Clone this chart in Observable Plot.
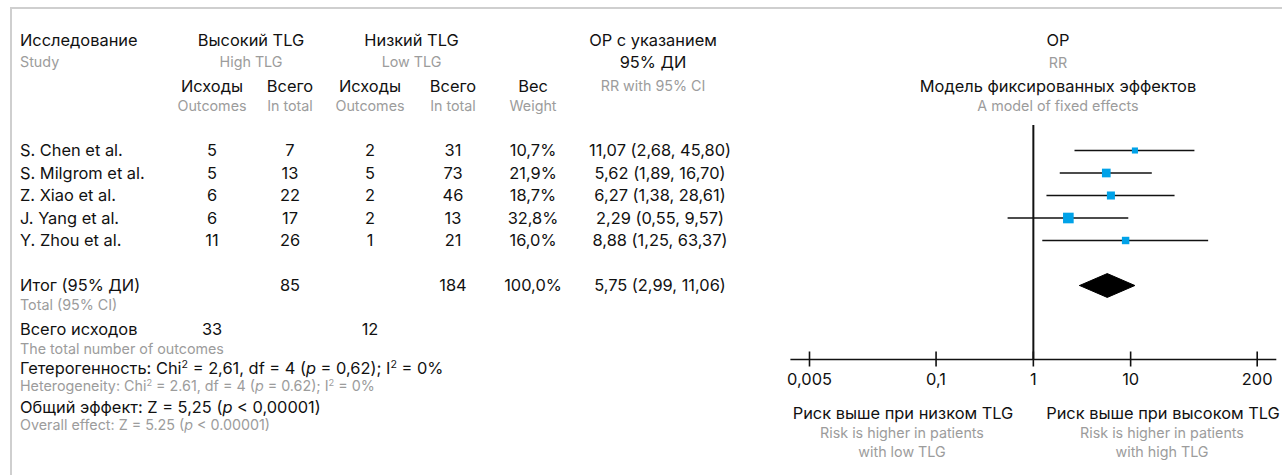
<!DOCTYPE html>
<html>
<head>
<meta charset="utf-8">
<script src="https://cdn.jsdelivr.net/npm/d3@7"></script>
<script src="https://cdn.jsdelivr.net/npm/@observablehq/plot@0.6"></script>
<style>
  html, body { margin: 0; padding: 0; background: #fff; }
  #wrap { position: relative; width: 1282px; height: 475px; overflow: hidden; font-family: Inter, "Noto Sans", sans-serif; color: #111; }
  #border { position: absolute; left: 10px; top: 7px; right: 0; bottom: -5px; border-top: 2px solid #cfcfcf; border-left: 2px solid #cfcfcf; }
  .t { position: absolute; white-space: nowrap; line-height: 1; }
  .ru { font-size: 16.4px; color: #111; }
  .en { font-size: 14.3px; color: #9c9c9c; }
  sup { font-size: 0.65em; vertical-align: 0.55em; line-height: 0; }
  #forest { position: absolute; left: 770px; top: 0; }
</style>
</head>
<body>
<div id="wrap"><div id="border"></div></div>
<script>
// ---- data ----
const studies = ["S. Chen et al.", "S. Milgrom et al.", "Z. Xiao et al.", "J. Yang et al.", "Y. Zhou et al."];
const highEvents = [5, 5, 6, 6, 11];
const highTotal = [7, 13, 22, 17, 26];
const lowEvents = [2, 5, 2, 2, 1];
const lowTotal = [31, 73, 46, 13, 21];
const weights = [10.7, 21.9, 18.7, 32.8, 16.0];
const rr = [11.07, 5.62, 6.27, 2.29, 8.88];
const rrLow = [2.68, 1.89, 1.38, 0.55, 1.25];
const rrHigh = [45.80, 16.70, 28.61, 9.57, 63.37];
const pooled = {rr: 5.75, lo: 2.99, hi: 11.06, weight: 100.0, highTotal: 85, lowTotal: 184, highEvents: 33, lowEvents: 12};
const heterogeneity = {chi2: 2.61, df: 4, p: 0.62, i2: 0};
const overall = {z: 5.25, p: "0,00001", pEn: "0.00001"};
const xTicks = [0.005, 0.1, 1, 10, 200];

// ---- helpers ----
const comma = s => String(s).replace(".", ",");
const f2 = d => comma(d.toFixed(2));
const f1 = d => comma(d.toFixed(1));
const wrap = document.getElementById("wrap");
function place(html, x, y, cls, align = "center") {
  const el = document.createElement("div");
  el.className = "t " + cls;
  el.innerHTML = html;
  el.style.left = x + "px";
  el.style.top = y + "px";
  const tx = align === "center" ? "-50%" : align === "right" ? "-100%" : "0";
  el.style.transform = `translate(${tx}, -50%)`;
  wrap.appendChild(el);
  return el;
}

// ---- table layout ----
const col = {study: 20, hiE: 212, hiT: 290, loE: 370, loT: 453, w: 533, rr: 660};
const row0 = 150, rowStep = 22.5;

// headers
place("Исследование", col.study, 40, "ru", "left");
place("Study", col.study, 62, "en", "left");
place("Высокий TLG", (col.hiE + col.hiT) / 2, 40, "ru");
place("High TLG", (col.hiE + col.hiT) / 2, 62, "en");
place("Низкий TLG", (col.loE + col.loT) / 2, 40, "ru");
place("Low TLG", (col.loE + col.loT) / 2, 62, "en");
for (const c of [col.hiE, col.loE]) { place("Исходы", c, 86, "ru"); place("Outcomes", c, 106, "en"); }
for (const c of [col.hiT, col.loT]) { place("Всего", c, 86, "ru"); place("In total", c, 106, "en"); }
place("Вес", col.w, 86, "ru"); place("Weight", col.w, 106, "en");
place("ОР с указанием", 653, 40, "ru"); place("95% ДИ", 653, 62, "ru"); place("RR with 95% CI", 653, 86, "en");

studies.forEach((s, i) => {
  const y = row0 + i * rowStep;
  place(s, col.study, y, "ru", "left");
  place(highEvents[i], col.hiE, y, "ru");
  place(highTotal[i], col.hiT, y, "ru");
  place(lowEvents[i], col.loE, y, "ru");
  place(lowTotal[i], col.loT, y, "ru");
  place(f1(weights[i]) + "%", col.w, y, "ru");
  place(`${f2(rr[i])} (${f2(rrLow[i])}, ${f2(rrHigh[i])})`, col.rr, y, "ru");
});
const yTot = row0 + 6 * rowStep;
place("Итог (95% ДИ)", col.study, yTot, "ru", "left");
place("Total (95% CI)", col.study, yTot + 20, "en", "left");
place(pooled.highTotal, col.hiT, yTot, "ru");
place(pooled.lowTotal, col.loT, yTot, "ru");
place(f1(pooled.weight) + "%", col.w, yTot, "ru");
place(`${f2(pooled.rr)} (${f2(pooled.lo)}, ${f2(pooled.hi)})`, col.rr, yTot, "ru");
place("Всего исходов", col.study, 329, "ru", "left");
place(pooled.highEvents, col.hiE, 329, "ru");
place(pooled.lowEvents, col.loE, 329, "ru");
place("The total number of outcomes", col.study, 349, "en", "left");
place(`Гетерогенность: Chi<sup>2</sup> = ${f2(heterogeneity.chi2)}, df = ${heterogeneity.df} (<i>p</i> = ${f2(heterogeneity.p)}); I<sup>2</sup> = ${heterogeneity.i2}%`, col.study, 368, "ru", "left");
place(`Heterogeneity: Chi<sup>2</sup> = ${heterogeneity.chi2.toFixed(2)}, df = ${heterogeneity.df} (<i>p</i> = ${heterogeneity.p.toFixed(2)}); I<sup>2</sup> = ${heterogeneity.i2}%`, col.study, 386, "en", "left");
place(`Общий эффект: Z = ${f2(overall.z)} (<i>p</i> &lt; ${overall.p})`, col.study, 407, "ru", "left");
place(`Overall effect: Z = ${overall.z.toFixed(2)} (<i>p</i> &lt; ${overall.pEn})`, col.study, 425, "en", "left");

// right headers
place("ОР", 1058, 40, "ru"); place("RR", 1058, 63, "en");
place("Модель фиксированных эффектов", 1058, 86, "ru"); place("A model of fixed effects", 1058, 106, "en");
place("Риск выше при низком TLG", 903, 413, "ru");
place("Risk is higher in patients", 902, 433, "en");
place("with low TLG", 902, 452, "en");
place("Риск выше при высоком TLG", 1163, 413, "ru");
place("Risk is higher in patients", 1162, 433, "en");
place("with high TLG", 1162, 452, "en");

// ---- forest plot ----
const rows = studies.map((s, i) => ({study: s, row: i, rr: rr[i], lo: rrLow[i], hi: rrHigh[i], w: weights[i]}));
const totalRow = 6;
const diamondHalf = 0.53;
const diamond = [
  {x: pooled.lo, y: totalRow}, {x: pooled.rr, y: totalRow - diamondHalf},
  {x: pooled.hi, y: totalRow}, {x: pooled.rr, y: totalRow + diamondHalf}, {x: pooled.lo, y: totalRow}
];

const forest = Plot.plot({
  width: 512,
  height: 475,
  marginLeft: 20.7,
  marginRight: 7,
  marginTop: 125,
  marginBottom: 116,
  style: {fontFamily: 'Inter, "Noto Sans", sans-serif', fontSize: "16.4px", color: "#111", background: "transparent", overflow: "visible"},
  x: {type: "log", domain: [xTicks[0], xTicks[xTicks.length - 1]], range: [39, 486.7]},
  y: {domain: [0, totalRow], range: [row0, row0 + totalRow * rowStep], axis: null},
  r: {type: "sqrt", domain: [0, d3.max(weights)], range: [0, 6]},
  marks: [
    Plot.frame({anchor: "bottom", stroke: "#111", strokeWidth: 1.6}),
    Plot.axisX(xTicks, {anchor: "bottom", tickSize: 15, dy: -7.5, text: null, strokeWidth: 1.6, stroke: "#111"}),
    Plot.text(xTicks, {x: d => d, frameAnchor: "bottom", dy: 25, text: d => comma(d), fontSize: 16.4, fill: "#111"}),
    Plot.ruleX([1], {stroke: "#111", strokeWidth: 2}),
    Plot.ruleY(rows, {y: "row", x1: "lo", x2: "hi", stroke: "#111", strokeWidth: 1.6}),
    Plot.dot(rows, {x: "rr", y: "row", r: "w", symbol: "square", fill: "#00a2e8", stroke: null}),
    Plot.line(diamond, {x: "x", y: "y", fill: "#000", stroke: "#000", strokeWidth: 1})
  ]
});
forest.id = "forest";
wrap.appendChild(forest);
</script>
</body>
</html>
